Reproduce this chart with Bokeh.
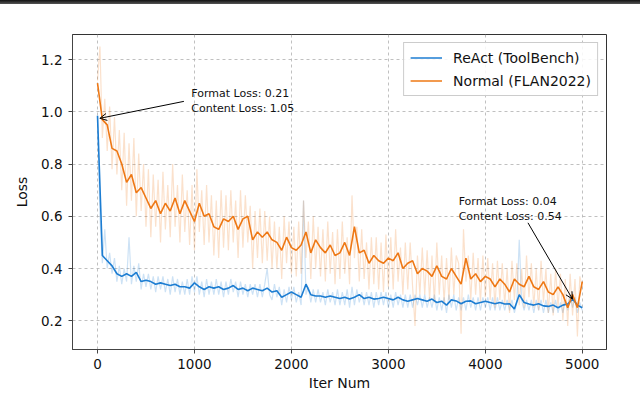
from bokeh.plotting import figure
from bokeh.models import (Range1d, FixedTicker, PrintfTickFormatter, Label, Arrow,
                          OpenHead, Legend, LegendItem, GlobalInlineStyleSheet)
from bokeh.embed import file_html
from bokeh.resources import INLINE

# ---------------- data ----------------
smooth_iters = list(range(0, 5001, 50))
raw_iters = list(range(0, 5001, 25))

react_smooth = [
    0.985, 0.45, 0.43, 0.41, 0.38, 0.37, 0.38, 0.37, 0.385, 0.35,
    0.355, 0.35, 0.34, 0.345, 0.34, 0.335, 0.34, 0.33, 0.33, 0.325,
    0.345, 0.33, 0.32, 0.33, 0.325, 0.33, 0.32, 0.325, 0.335, 0.32,
    0.325, 0.315, 0.325, 0.32, 0.315, 0.325, 0.31, 0.315, 0.29, 0.30,
    0.31, 0.30, 0.29, 0.34, 0.30, 0.295, 0.295, 0.29, 0.295, 0.29,
    0.285, 0.29, 0.283, 0.29, 0.30, 0.285, 0.29, 0.283, 0.285, 0.29,
    0.285, 0.28, 0.29, 0.28, 0.275, 0.28, 0.285, 0.28, 0.275, 0.283,
    0.27, 0.275, 0.26, 0.28, 0.276, 0.265, 0.275, 0.276, 0.265, 0.27,
    0.275, 0.27, 0.265, 0.27, 0.264, 0.265, 0.245, 0.30, 0.27, 0.264,
    0.26, 0.265, 0.257, 0.255, 0.26, 0.25, 0.26, 0.264, 0.283, 0.26,
    0.25,
]

normal_smooth = [
    1.11, 0.97, 0.95, 0.86, 0.85, 0.80, 0.73, 0.76, 0.69, 0.71,
    0.67, 0.63, 0.66, 0.61, 0.65, 0.62, 0.67, 0.61, 0.66, 0.62,
    0.58, 0.65, 0.60, 0.61, 0.56, 0.55, 0.59, 0.58, 0.60, 0.55,
    0.59, 0.60, 0.51, 0.54, 0.52, 0.54, 0.51, 0.50, 0.47, 0.52,
    0.48, 0.47, 0.49, 0.54, 0.46, 0.51, 0.48, 0.46, 0.49, 0.45,
    0.46, 0.50, 0.45, 0.56, 0.46, 0.47, 0.42, 0.45, 0.43, 0.42,
    0.44, 0.43, 0.46, 0.40, 0.42, 0.43, 0.38, 0.40, 0.39, 0.37,
    0.41, 0.37, 0.36, 0.40, 0.37, 0.34, 0.44, 0.36, 0.38, 0.35,
    0.37, 0.36, 0.33, 0.36, 0.34, 0.31, 0.36, 0.34, 0.33, 0.37,
    0.33, 0.32, 0.35, 0.31, 0.30, 0.33, 0.30, 0.25, 0.30, 0.25,
    0.35,
]

react_raw = [
    0.98, 0.60, 0.42, 0.55, 0.40, 0.46, 0.38, 0.44, 0.35, 0.41,
    0.34, 0.40, 0.35, 0.52, 0.34, 0.41, 0.35, 0.42, 0.32, 0.38,
    0.33, 0.38, 0.32, 0.37, 0.31, 0.37, 0.32, 0.37, 0.31, 0.36,
    0.30, 0.37, 0.31, 0.36, 0.30, 0.35, 0.30, 0.36, 0.30, 0.37,
    0.31, 0.37, 0.30, 0.35, 0.29, 0.36, 0.30, 0.35, 0.30, 0.36,
    0.30, 0.35, 0.29, 0.35, 0.30, 0.36, 0.31, 0.35, 0.29, 0.35,
    0.30, 0.34, 0.29, 0.34, 0.30, 0.34, 0.29, 0.34, 0.29, 0.34,
    0.40, 0.30, 0.28, 0.34, 0.29, 0.33, 0.26, 0.32, 0.27, 0.33,
    0.28, 0.33, 0.27, 0.31, 0.26, 0.66, 0.30, 0.33, 0.27, 0.32,
    0.27, 0.32, 0.27, 0.31, 0.26, 0.32, 0.27, 0.31, 0.26, 0.32,
    0.26, 0.31, 0.26, 0.32, 0.25, 0.33, 0.26, 0.32, 0.27, 0.31,
    0.26, 0.31, 0.26, 0.31, 0.25, 0.31, 0.26, 0.31, 0.26, 0.31,
    0.25, 0.30, 0.25, 0.31, 0.26, 0.30, 0.25, 0.30, 0.25, 0.30,
    0.25, 0.30, 0.26, 0.30, 0.25, 0.30, 0.25, 0.29, 0.25, 0.30,
    0.24, 0.29, 0.24, 0.29, 0.23, 0.30, 0.25, 0.30, 0.24, 0.29,
    0.24, 0.29, 0.24, 0.30, 0.25, 0.29, 0.24, 0.29, 0.24, 0.29,
    0.25, 0.29, 0.24, 0.29, 0.24, 0.29, 0.24, 0.28, 0.24, 0.28,
    0.24, 0.28, 0.23, 0.27, 0.51, 0.28, 0.24, 0.28, 0.24, 0.28,
    0.23, 0.28, 0.24, 0.28, 0.23, 0.28, 0.23, 0.27, 0.23, 0.28,
    0.23, 0.27, 0.23, 0.28, 0.24, 0.30, 0.25, 0.29, 0.23, 0.27,
    0.24,
]

normal_raw = [
    1.12, 1.25, 0.90, 1.05, 0.85, 1.02, 0.78, 0.98, 0.76, 0.93,
    0.70, 0.92, 0.64, 0.88, 0.66, 0.90, 0.60, 0.84, 0.62, 0.80,
    0.56, 0.78, 0.52, 0.76, 0.56, 0.74, 0.50, 0.77, 0.55, 0.72,
    0.52, 0.80, 0.56, 0.72, 0.50, 0.76, 0.54, 0.70, 0.49, 0.72,
    0.47, 0.78, 0.54, 0.70, 0.49, 0.72, 0.50, 0.68, 0.45, 0.66,
    0.44, 0.70, 0.48, 0.68, 0.47, 0.70, 0.50, 0.66, 0.44, 0.70,
    0.48, 0.68, 0.50, 0.64, 0.40, 0.62, 0.44, 0.63, 0.42, 0.62,
    0.43, 0.60, 0.40, 0.58, 0.40, 0.56, 0.36, 0.60, 0.42, 0.58,
    0.38, 0.56, 0.37, 0.58, 0.38, 0.66, 0.44, 0.58, 0.36, 0.60,
    0.40, 0.56, 0.37, 0.55, 0.35, 0.58, 0.38, 0.54, 0.34, 0.55,
    0.36, 0.58, 0.38, 0.52, 0.34, 0.68, 0.44, 0.56, 0.35, 0.55,
    0.36, 0.50, 0.32, 0.52, 0.34, 0.52, 0.32, 0.50, 0.31, 0.53,
    0.33, 0.52, 0.32, 0.55, 0.35, 0.48, 0.30, 0.50, 0.32, 0.50,
    0.33, 0.18, 0.45, 0.30, 0.48, 0.30, 0.47, 0.28, 0.45, 0.27,
    0.50, 0.30, 0.45, 0.27, 0.44, 0.28, 0.48, 0.30, 0.45, 0.42,
    0.15, 0.55, 0.35, 0.45, 0.28, 0.46, 0.30, 0.44, 0.27, 0.45,
    0.29, 0.44, 0.28, 0.42, 0.25, 0.43, 0.28, 0.42, 0.26, 0.40,
    0.23, 0.43, 0.28, 0.42, 0.26, 0.40, 0.25, 0.45, 0.29, 0.42,
    0.25, 0.40, 0.24, 0.43, 0.27, 0.40, 0.23, 0.38, 0.22, 0.40,
    0.25, 0.38, 0.20, 0.36, 0.18, 0.38, 0.22, 0.36, 0.14, 0.37,
    0.33,
]

series_names = ["ReAct (ToolBench)", "Normal (FLAN2022)"]
x_ticks = [0, 1000, 2000, 3000, 4000, 5000]
y_ticks = [0.2, 0.4, 0.6, 0.8, 1.0, 1.2]

# annotation anchors (data coords)
note1_lines = ["Format Loss: 0.21", "Content Loss: 1.05"]
note1_text_xy = (967, 1.071, 1.014)
note1_arrow = (891, 1.04, 24, 0.975)
note2_lines = ["Format Loss: 0.04", "Content Loss: 0.54"]
note2_text_xy = (3725, 0.656, 0.599)
note2_arrow = (4440, 0.575, 4899, 0.283)

BLUE = "#1c7dd2"
ORANGE = "#ee7815"
FONT = "DejaVu Sans"

# ---------------- figure ----------------
p = figure(width=640, height=393, output_backend="svg", toolbar_location=None,
           x_range=Range1d(-258, 5250), y_range=Range1d(0.09, 1.296),
           min_border_left=72, min_border_right=34, min_border_top=34,
           min_border_bottom=42)
p.stylesheets = [GlobalInlineStyleSheet(css=(
    "body{margin:0}"
    "body::before{content:'';position:fixed;top:0;left:0;right:0;height:4px;"
    "background:linear-gradient(#111,#555);z-index:10}"))]

p.outline_line_color = "#333333"
p.background_fill_color = "white"

p.line(raw_iters, react_raw, line_color=BLUE, line_alpha=0.22, line_width=1.2)
p.line(raw_iters, normal_raw, line_color=ORANGE, line_alpha=0.22, line_width=1.2)
r_react = p.line(smooth_iters, react_smooth, line_color=BLUE, line_width=1.6)
r_normal = p.line(smooth_iters, normal_smooth, line_color=ORANGE, line_width=1.6)

# axes
p.xaxis.ticker = FixedTicker(ticks=x_ticks)
p.yaxis.ticker = FixedTicker(ticks=y_ticks)
p.yaxis.formatter = PrintfTickFormatter(format="%.1f")
for ax in (p.xaxis[0], p.yaxis[0]):
    ax.major_label_text_font = FONT
    ax.major_label_text_font_size = "13.5px"
    ax.major_label_text_color = "#111111"
    ax.axis_label_text_font = FONT
    ax.axis_label_text_font_size = "14px"
    ax.axis_label_text_font_style = "normal"
    ax.axis_label_text_color = "#111111"
    ax.axis_line_color = "#444444"
    ax.major_tick_line_color = "#444444"
    ax.major_tick_out = 4
    ax.major_tick_in = 0
    ax.minor_tick_line_color = None
p.xaxis.axis_label = "Iter Num"
p.yaxis.axis_label = "Loss"
p.xaxis.major_label_standoff = 5
p.yaxis.major_label_standoff = 6
p.xaxis.axis_label_standoff = 3
p.yaxis.axis_label_standoff = 8

p.grid.grid_line_color = "#b0b0b0"
p.grid.grid_line_dash = "3 3"
p.grid.grid_line_width = 0.8

# legend
legend = Legend(items=[LegendItem(label=series_names[0], renderers=[r_react]),
                       LegendItem(label=series_names[1], renderers=[r_normal])],
                location="top_right", label_text_font=FONT,
                label_text_font_size="14px", label_text_color="#111111",
                border_line_color="#cccccc", border_line_alpha=1,
                background_fill_alpha=0.85, glyph_width=32, glyph_height=17,
                label_height=17, label_standoff=11, padding=6, spacing=6,
                margin=8)
p.add_layout(legend)

# annotations
for lines, (tx, ty1, ty2), (xs, ys, xe, ye) in (
        (note1_lines, note1_text_xy, note1_arrow),
        (note2_lines, note2_text_xy, note2_arrow)):
    for txt, ty in zip(lines, (ty1, ty2)):
        p.add_layout(Label(x=tx, y=ty, text=txt, text_font=FONT,
                           text_font_size="11px", text_baseline="middle",
                           text_color="#111111"))
    p.add_layout(Arrow(x_start=xs, y_start=ys, x_end=xe, y_end=ye,
                       line_color="black", line_width=1,
                       end=OpenHead(size=7, line_width=1, line_color="black")))

open("out.html", "w").write(file_html(p, INLINE))
